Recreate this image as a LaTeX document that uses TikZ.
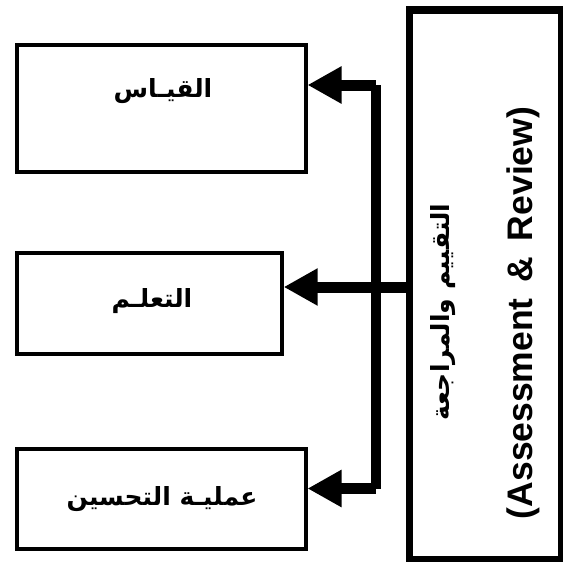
\documentclass[tikz,border=0pt]{standalone}
\usepackage{fontspec}
\setmainfont{Liberation Sans}
\newfontfamily\arabicfont[Script=Arabic]{DejaVu Sans}
\TeXXeTstate=1
\usetikzlibrary{arrows.meta}

\begin{document}
\begin{tikzpicture}[x=1pt,y=-1pt]
\useasboundingbox (0,0) rectangle (563,562);
\tikzset{
  box/.style={draw, line width=4pt, rectangle, inner sep=0pt, anchor=north west},
  bigbox/.style={draw, line width=7.5pt, rectangle, inner sep=0pt, anchor=north west},
  arlabel/.style={font=\arabicfont\bfseries\fontsize{25}{30}\selectfont, inner sep=0pt},
  enlabel/.style={font=\bfseries\fontsize{35.5}{42}\selectfont, inner sep=0pt},
  link/.style={line width=11pt},
  bus/.style={line width=10pt},
  tip/.style={-{Triangle[length=34pt,width=35pt]}}
}

% the three target boxes
\node[box, minimum width=288.2pt, minimum height=127.2pt] (measure) at (15.3,42.8) {};
\node[box, minimum width=264.4pt, minimum height=101pt] (learn) at (15.3,250.5) {};
\node[box, minimum width=288.2pt, minimum height=100.8pt] (improve) at (15.3,446.5) {};

\node[arlabel] (tMeasure) at (163,91) {\beginR القيـاس\endR};
\node[arlabel] (tLearn) at (152,301) {\beginR التعلـم\endR};
\node[arlabel] (tImprove) at (162,499) {\beginR عمليـة التحسين\endR};

% the source box on the right
\node[bigbox, minimum width=151.8pt, minimum height=549.7pt] (review) at (405.7,6.3) {};
\node[arlabel, rotate=90] (tReviewAr) at (443,312) {\beginR التقييم والمراجعة\endR};
\node[enlabel, rotate=90] (tReviewEn) at (523,313) {(Assessment \,\&\, Review)};

% junctions on the vertical bus
\coordinate (jTop) at (375.7,85);
\coordinate (jBottom) at (375.7,488.5);

\draw[bus] (jTop) -- (jBottom);
\draw[link, tip] (jTop) -- (jTop -| measure.east);
\draw[link, tip] (jBottom) -- (jBottom -| improve.east);
\draw[link, tip] (review.west |- 0,287) -- (learn.east |- 0,287);
\end{tikzpicture}
\end{document}
